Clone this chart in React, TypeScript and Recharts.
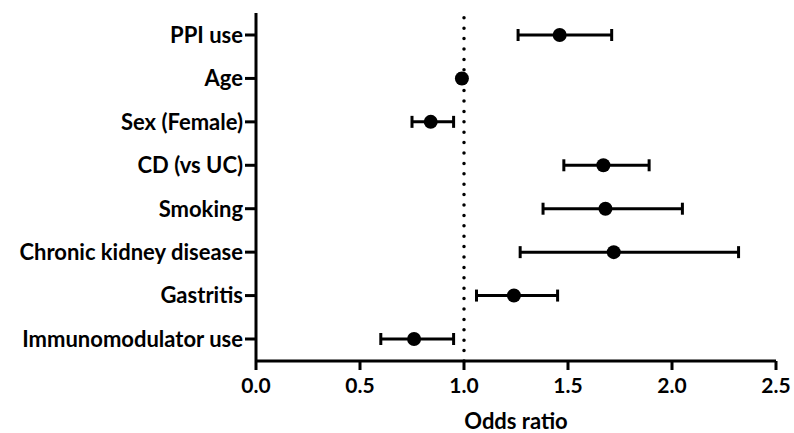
import {
  ComposedChart, Line, ErrorBar, XAxis, YAxis, ReferenceLine,
} from 'recharts';

const FACTORS = [
  'PPI use', 'Age', 'Sex (Female)', 'CD (vs UC)', 'Smoking',
  'Chronic kidney disease', 'Gastritis', 'Immunomodulator use',
];
const ODDS = [1.46, 0.99, 0.84, 1.67, 1.68, 1.72, 1.24, 0.76];
const LOWER = [1.26, 0.98, 0.75, 1.48, 1.38, 1.27, 1.06, 0.60];
const UPPER = [1.71, 1.0, 0.95, 1.89, 2.05, 2.32, 1.45, 0.95];
const X_TICKS = [0, 0.5, 1, 1.5, 2, 2.5];

const FONT = 'Lato, "Open Sans", sans-serif';

const data = FACTORS.map((name, i) => ({
  name,
  or: ODDS[i],
  err: [ODDS[i] - LOWER[i], UPPER[i] - ODDS[i]],
}));

export default function App() {
  return (
    <div style={{ position: 'absolute', left: 0, top: 0, width: 794, height: 433, background: '#fff' }}>
      <ComposedChart
        width={794}
        height={433}
        data={data}
        layout="vertical"
        margin={{ top: 13, right: 18, bottom: 0, left: 0 }}
      >
        <XAxis
          type="number"
          domain={[0, 2.5]}
          ticks={X_TICKS}
          tickFormatter={(v: number) => v.toFixed(1)}
          height={72}
          tickSize={9}
          tickMargin={8}
          axisLine={{ stroke: '#000', strokeWidth: 3 }}
          tickLine={{ stroke: '#000', strokeWidth: 3 }}
          tick={{ fill: '#000', fontSize: 21, fontWeight: 700, fontFamily: FONT }}
          label={{ value: 'Odds ratio', position: 'insideBottom', offset: 4, fill: '#000', fontSize: 22, fontWeight: 700, fontFamily: FONT }}
        />
        <YAxis
          type="category"
          dataKey="name"
          width={256}
          padding={{ top: 22, bottom: 22 }}
          tickSize={11}
          tickMargin={2}
          axisLine={{ stroke: '#000', strokeWidth: 3 }}
          tickLine={{ stroke: '#000', strokeWidth: 3 }}
          tick={{ fill: '#000', fontSize: 22, fontWeight: 700, fontFamily: FONT }}
        />
        <ReferenceLine
          x={1}
          stroke="#000"
          strokeWidth={3.5}
          strokeDasharray="0 10.4"
          strokeLinecap="round"
        />
        <Line
          dataKey="or"
          stroke="none"
          isAnimationActive={false}
          dot={{ r: 7, fill: '#000', stroke: 'none' }}
          activeDot={false}
        >
          <ErrorBar dataKey="err" direction="x" width={6} stroke="#000" strokeWidth={3} />
        </Line>
      </ComposedChart>
    </div>
  );
}
